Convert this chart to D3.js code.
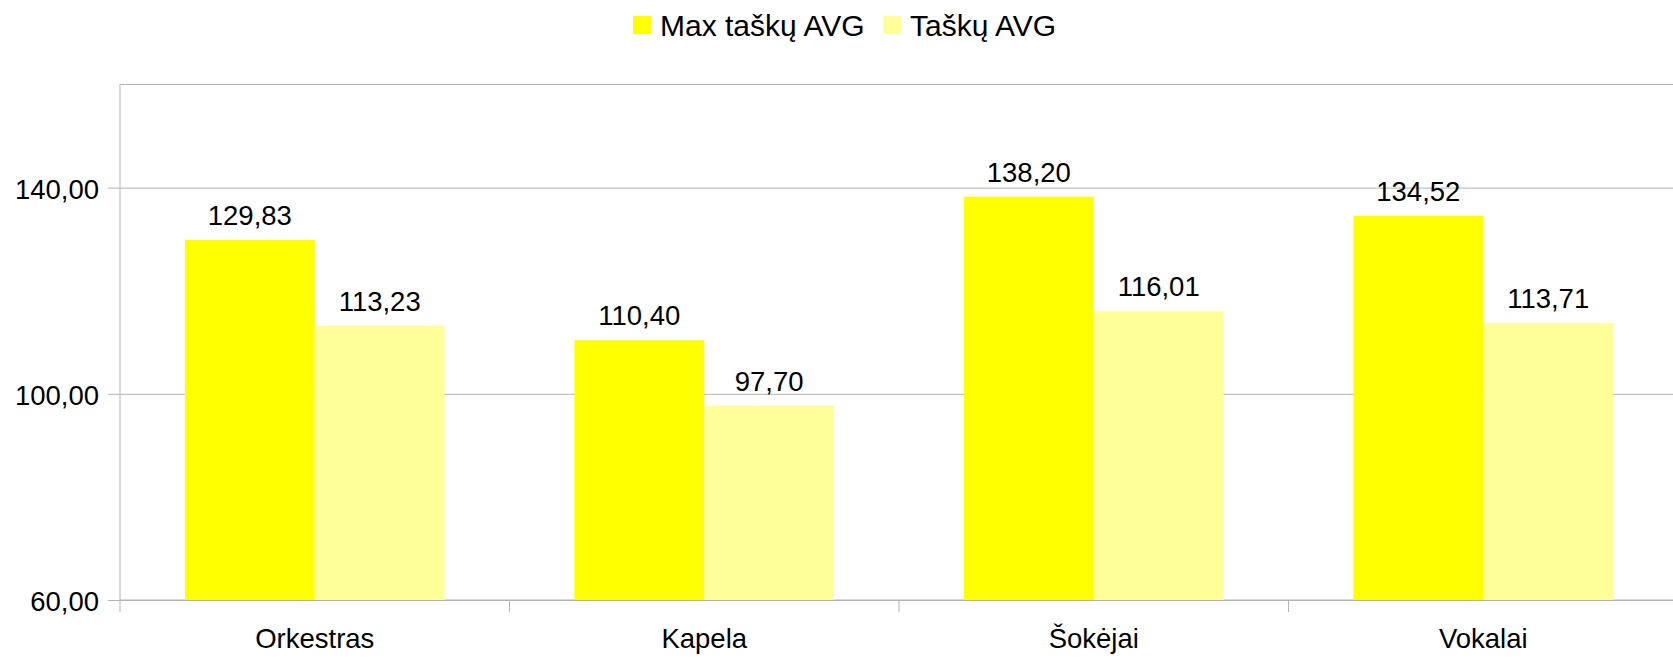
<!DOCTYPE html>
<html>
<head>
<meta charset="utf-8">
<script src="https://cdn.jsdelivr.net/npm/d3@7"></script>
<style>
  body { margin: 0; background: #fff; }
  svg { display: block; }
</style>
</head>
<body>
<div id="chart"></div>
<script>
// Duomenys
const categories = ['Orkestras', 'Kapela', 'Šokėjai', 'Vokalai'];
const seriesNames = ['Max taškų AVG', 'Taškų AVG'];
const maxAvg = [129.83, 110.40, 138.20, 134.52];
const avg = [113.23, 97.70, 116.01, 113.71];
const yTicks = [60, 100, 140];
const colors = ['#ffff00', '#ffff99'];

const W = 1673, H = 660;
const M = { top: 84.5, left: 120, bottom: 600 };
const plotW = 1558; // dešinys kraštas už kadro ribų
const FONT = '"Liberation Sans", Arial, sans-serif';
const FS = 27.5;
const FS_LEG = 30;

const lt = d3.formatLocale({ decimal: ',', thousands: ' ', grouping: [3], currency: ['', ''] });
const fmt = lt.format('.2f');

const svg = d3.select('#chart').append('svg')
  .attr('width', W).attr('height', H)
  .attr('font-family', FONT);

const x0 = d3.scaleBand().domain(categories).range([M.left, M.left + plotW]);
const x1 = d3.scaleBand().domain(seriesNames).range([0, x0.bandwidth()]).paddingOuter(0.5);
const y = d3.scaleLinear().domain([60, 160]).range([M.bottom, M.top]);

// Tinklelis
const grid = svg.append('g').attr('transform', `translate(${M.left},0)`)
  .call(d3.axisLeft(y).tickValues(yTicks).tickSize(-plotW).tickFormat(''));
grid.select('.domain').remove();
grid.selectAll('line').attr('stroke', '#b3b3b3').attr('stroke-width', 1);

// Rėmelis
svg.append('rect')
  .attr('x', M.left).attr('y', M.top)
  .attr('width', plotW).attr('height', M.bottom - M.top)
  .attr('fill', 'none').attr('stroke', '#b3b3b3').attr('stroke-width', 1);

// Stulpeliai
const rows = categories.map((c, i) => ({ cat: c, vals: [maxAvg[i], avg[i]] }));
const groups = svg.append('g').selectAll('g').data(rows).join('g')
  .attr('transform', d => `translate(${x0(d.cat)},0)`);

groups.selectAll('rect')
  .data(d => d.vals.map((v, j) => ({ s: seriesNames[j], v, j })))
  .join('rect')
  .attr('x', d => x1(d.s))
  .attr('y', d => y(d.v))
  .attr('width', x1.bandwidth())
  .attr('height', d => y(60) - y(d.v))
  .attr('fill', d => colors[d.j]);

groups.selectAll('text')
  .data(d => d.vals.map((v, j) => ({ s: seriesNames[j], v, j })))
  .join('text')
  .attr('x', d => x1(d.s) + x1.bandwidth() / 2)
  .attr('y', d => y(d.v) - 15)
  .attr('text-anchor', 'middle')
  .attr('font-size', FS)
  .attr('fill', '#000')
  .text(d => fmt(d.v));

// Y ašis
const yAx = svg.append('g').attr('transform', `translate(${M.left},0)`)
  .call(d3.axisLeft(y).tickValues(yTicks).tickSize(12).tickPadding(9).tickFormat(fmt));
yAx.select('.domain').remove();
yAx.selectAll('line').attr('stroke', '#b3b3b3');
yAx.selectAll('text').attr('font-size', FS).attr('font-family', FONT)
  .attr('fill', '#000').attr('dy', '0.38em');

// X ašis
const xAx = svg.append('g').attr('transform', `translate(0,${M.bottom})`)
  .call(d3.axisBottom(x0).tickSize(0).tickPadding(28));
xAx.select('.domain').attr('stroke', '#b3b3b3');
xAx.selectAll('text').attr('font-size', FS).attr('font-family', FONT).attr('fill', '#000');
svg.append('g').selectAll('line')
  .data(categories.map(c => x0(c)))
  .join('line')
  .attr('x1', d => d).attr('x2', d => d)
  .attr('y1', M.bottom).attr('y2', M.bottom + 12)
  .attr('stroke', '#b3b3b3');

// Legenda
const legX = [633, 883];
const leg = svg.append('g').selectAll('g').data(seriesNames).join('g')
  .attr('transform', (d, i) => `translate(${legX[i]},16)`);
leg.append('rect').attr('width', 18).attr('height', 18).attr('fill', (d, i) => colors[i]);
leg.append('text').attr('x', 27).attr('y', 20).attr('font-size', FS_LEG).attr('fill', '#000').text(d => d);
</script>
</body>
</html>
